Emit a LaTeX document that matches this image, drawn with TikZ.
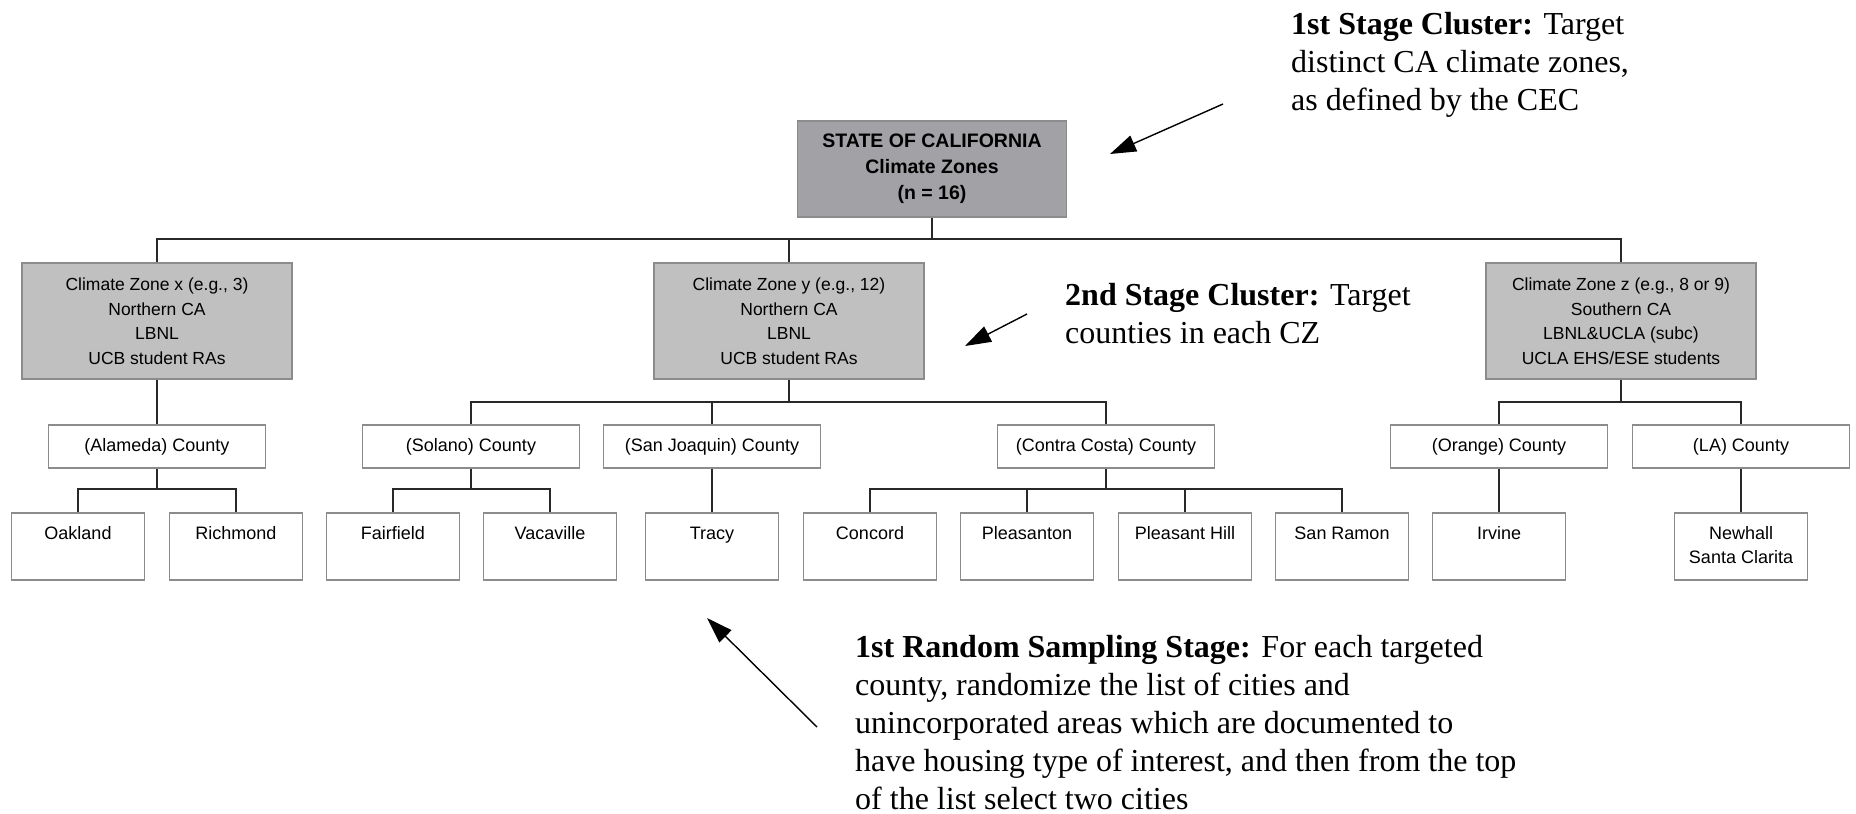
\documentclass[tikz,border=0pt]{standalone}
\usepackage{fontspec}
\setmainfont{Liberation Serif}
\newfontfamily\boxfont{Liberation Sans}
\usetikzlibrary{arrows.meta}
\definecolor{topfill}{RGB}{162,162,166}
\definecolor{zonefill}{RGB}{192,192,192}
\definecolor{boxline}{RGB}{140,140,140}
\definecolor{conn}{RGB}{40,40,40}
\begin{document}
\begin{tikzpicture}[x=1pt,y=-1pt,
 topbox/.style={draw=boxline, fill=topfill, line width=1.2pt, minimum width=269pt, minimum height=96pt, font=\boxfont\bfseries\fontsize{19.5}{26}\selectfont, align=center, inner sep=0pt},
 zonebox/.style={draw=boxline, fill=zonefill, line width=1.2pt, minimum width=270pt, minimum height=116pt, font=\boxfont\fontsize{17.5}{24.5}\selectfont, align=center, inner sep=0pt},
 county/.style={draw=boxline, fill=white, line width=1.2pt, minimum width=217pt, minimum height=43pt, font=\boxfont\fontsize{18}{24}\selectfont, inner sep=0pt},
 city/.style={draw=boxline, fill=white, line width=1.2pt, minimum width=133pt, minimum height=67pt, inner sep=0pt},
 citytext/.style={font=\boxfont\fontsize{18}{24}\selectfont, align=center, anchor=base, inner sep=0pt, yshift=-27pt},
 citytwo/.style={font=\boxfont\fontsize{18}{24}\selectfont, align=center, anchor=center, inner sep=0pt, yshift=-33pt},
 link/.style={draw=conn, line width=1.1pt},
 note/.style={anchor=north west, align=left, inner sep=0pt, font=\fontsize{32}{38}\selectfont},
 pointer/.style={draw=black, line width=1.4pt, -{Triangle[length=26pt,width=17pt]}},
]
\useasboundingbox (0,0) rectangle (1856,814);

\coordinate (b1) at (0,239);
\coordinate (b2) at (0,402);
\coordinate (b3) at (0,489);

\node[topbox] (top) at (932,169) {STATE OF CALIFORNIA\\Climate Zones\\(n = 16)};
\node[zonebox] (zx) at (157,321) {Climate Zone x (e.g., 3)\\Northern CA\\LBNL\\UCB student RAs};
\node[zonebox] (zy) at (789,321) {Climate Zone y (e.g., 12)\\Northern CA\\LBNL\\UCB student RAs};
\node[zonebox] (zz) at (1621,321) {Climate Zone z (e.g., 8 or 9)\\Southern CA\\LBNL\&UCLA (subc)\\UCLA EHS/ESE students};

\node[county] (ala) at (157,446.5) {(Alameda) County};
\node[county] (sol) at (471,446.5) {(Solano) County};
\node[county] (sjq) at (712,446.5) {(San Joaquin) County};
\node[county] (cc) at (1106,446.5) {(Contra Costa) County};
\node[county] (ora) at (1499,446.5) {(Orange) County};
\node[county] (la) at (1741,446.5) {(LA) County};

\node[city, label={[citytext]north:Oakland}] (oak) at (78,546.5) {};
\node[city, label={[citytext]north:Richmond}] (ric) at (236,546.5) {};
\node[city, label={[citytext]north:Fairfield}] (fai) at (393,546.5) {};
\node[city, label={[citytext]north:Vacaville}] (vac) at (550,546.5) {};
\node[city, label={[citytext]north:Tracy}] (tra) at (712,546.5) {};
\node[city, label={[citytext]north:Concord}] (con) at (870,546.5) {};
\node[city, label={[citytext]north:Pleasanton}] (plt) at (1027,546.5) {};
\node[city, label={[citytext]north:Pleasant Hill}] (phl) at (1185,546.5) {};
\node[city, label={[citytext]north:San Ramon}] (sra) at (1342,546.5) {};
\node[city, label={[citytext]north:Irvine}] (irv) at (1499,546.5) {};
\node[city, label={[citytwo]north:Newhall\\Santa Clarita}] (new) at (1741,546.5) {};

\draw[link] (top.south) -- (top.south |- b1);
\draw[link] (zx.north) -- (zx.north |- b1) -- (zz.north |- b1) -- (zz.north);
\draw[link] (zy.north) -- (zy.north |- b1);

\draw[link] (zx.south) -- (ala.north);
\draw[link] (zy.south) -- (zy.south |- b2);
\draw[link] (sol.north) -- (sol.north |- b2) -- (cc.north |- b2) -- (cc.north);
\draw[link] (sjq.north) -- (sjq.north |- b2);
\draw[link] (zz.south) -- (zz.south |- b2);
\draw[link] (ora.north) -- (ora.north |- b2) -- (la.north |- b2) -- (la.north);

\draw[link] (ala.south) -- (ala.south |- b3);
\draw[link] (oak.north) -- (oak.north |- b3) -- (ric.north |- b3) -- (ric.north);
\draw[link] (sol.south) -- (sol.south |- b3);
\draw[link] (fai.north) -- (fai.north |- b3) -- (vac.north |- b3) -- (vac.north);
\draw[link] (sjq.south) -- (tra.north);
\draw[link] (cc.south) -- (cc.south |- b3);
\draw[link] (con.north) -- (con.north |- b3) -- (sra.north |- b3) -- (sra.north);
\draw[link] (plt.north) -- (plt.north |- b3);
\draw[link] (phl.north) -- (phl.north |- b3);
\draw[link] (ora.south) -- (irv.north);
\draw[link] (la.south) -- (new.north);

\node[note] (n1) at (1291,12) {\textbf{1st Stage Cluster:} Target\\distinct CA climate zones,\\as defined by the CEC};
\node[note] (n2) at (1065,283) {\textbf{2nd Stage Cluster:} Target\\counties in each CZ};
\node[note] (n3) at (855,635) {\textbf{1st Random Sampling Stage:} For each targeted\\county, randomize the list of cities and\\unincorporated areas which are documented to\\have housing type of interest, and then from the top\\of the list select two cities};

\coordinate (a1s) at (1223,104);
\coordinate (a1e) at (1110,154);
\coordinate (a2s) at (1027,314);
\coordinate (a2e) at (965,346);
\coordinate (a3s) at (817,727);
\coordinate (a3e) at (707,618);
\draw[pointer] (a1s) -- (a1e);
\draw[pointer] (a2s) -- (a2e);
\draw[pointer] (a3s) -- (a3e);
\end{tikzpicture}
\end{document}
